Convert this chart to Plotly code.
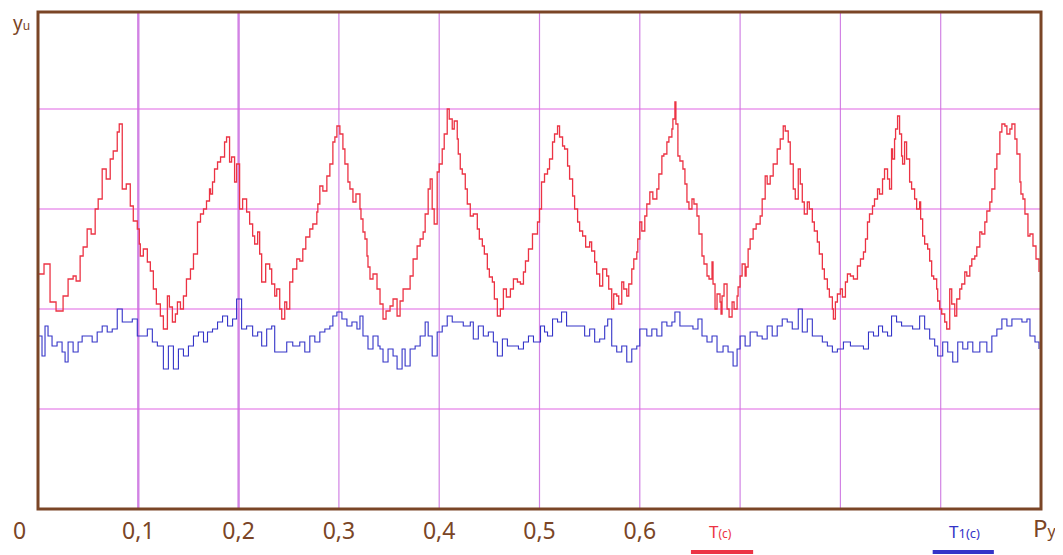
import plotly.graph_objects as go

# ---------------- data ----------------
red_x = [0.000, 0.012, 0.025, 0.035, 0.042, 0.049, 0.057, 0.064, 0.072, 0.079,
         0.084, 0.092, 0.099, 0.102, 0.109, 0.115, 0.122, 0.129, 0.134, 0.139,
         0.145, 0.152, 0.159, 0.165, 0.171, 0.174, 0.179, 0.186, 0.191, 0.196,
         0.201, 0.208, 0.214, 0.219, 0.223, 0.231, 0.236, 0.241, 0.246, 0.251,
         0.258, 0.264, 0.271, 0.278, 0.281, 0.288, 0.294, 0.298, 0.304, 0.309,
         0.314, 0.321, 0.324, 0.328, 0.331, 0.338, 0.344, 0.351, 0.358, 0.364,
         0.371, 0.378, 0.384, 0.389, 0.393, 0.398, 0.403, 0.408, 0.413, 0.418,
         0.421, 0.426, 0.431, 0.438, 0.443, 0.448, 0.453, 0.458, 0.464, 0.471,
         0.478, 0.484, 0.489, 0.498, 0.502, 0.508, 0.513, 0.518, 0.523, 0.528,
         0.533, 0.538, 0.543, 0.550, 0.555, 0.560, 0.567, 0.572, 0.577, 0.582,
         0.587, 0.592, 0.597, 0.600, 0.605, 0.610, 0.617, 0.622, 0.627, 0.632,
         0.635, 0.638, 0.643, 0.647, 0.652, 0.657, 0.662, 0.667, 0.672, 0.675,
         0.680, 0.682, 0.687, 0.692, 0.697, 0.700, 0.705, 0.708, 0.713, 0.720,
         0.725, 0.730, 0.737, 0.743, 0.748, 0.753, 0.758, 0.762, 0.767, 0.772,
         0.777, 0.782, 0.787, 0.792, 0.795, 0.800, 0.805, 0.810, 0.817, 0.823,
         0.827, 0.832, 0.837, 0.842, 0.847, 0.851, 0.854, 0.857, 0.861, 0.864,
         0.869, 0.874, 0.879, 0.882, 0.887, 0.891, 0.896, 0.899, 0.904, 0.909,
         0.914, 0.919, 0.924, 0.929, 0.934, 0.939, 0.944, 0.949, 0.954, 0.959,
         0.964, 0.969, 0.974, 0.979, 0.982, 0.987, 0.992, 0.998]
red_y = [2.35, 2.07, 2.13, 2.33, 2.53, 2.80, 3.00, 3.40, 3.50, 3.77,
         3.20, 3.03, 2.80, 2.53, 2.47, 2.20, 1.93, 2.13, 1.87, 2.07,
         2.13, 2.40, 2.87, 3.00, 3.20, 3.27, 3.47, 3.67, 3.47, 3.27,
         3.00, 2.97, 2.73, 2.77, 2.27, 2.40, 2.13, 2.00, 2.07, 2.27,
         2.50, 2.60, 2.80, 2.97, 3.23, 3.33, 3.67, 3.83, 3.60, 3.27,
         3.07, 3.00, 2.77, 2.53, 2.30, 2.20, 1.90, 2.03, 1.93, 2.20,
         2.33, 2.63, 2.77, 3.20, 3.00, 3.37, 3.60, 4.00, 3.80, 3.70,
         3.40, 3.20, 2.93, 2.80, 2.63, 2.40, 2.27, 1.93, 2.20, 2.20,
         2.27, 2.37, 2.60, 2.87, 3.27, 3.40, 3.67, 3.83, 3.63, 3.43,
         3.13, 2.87, 2.73, 2.67, 2.47, 2.23, 2.33, 2.00, 2.13, 2.27,
         2.13, 2.40, 2.57, 2.87, 2.93, 3.17, 3.20, 3.53, 3.67, 3.80,
         4.07, 3.53, 3.40, 3.07, 3.10, 2.93, 2.53, 2.33, 2.47, 2.00,
         2.07, 2.13, 2.00, 2.07, 2.13, 2.33, 2.33, 2.60, 2.80, 2.93,
         3.33, 3.33, 3.60, 3.83, 3.67, 3.20, 3.40, 3.07, 3.07, 2.87,
         2.67, 2.40, 2.20, 2.00, 2.07, 2.20, 2.27, 2.33, 2.43, 2.57,
         2.87, 3.03, 3.20, 3.30, 3.30, 3.60, 3.70, 3.93, 3.53, 3.67,
         3.27, 3.10, 3.07, 2.73, 2.60, 2.33, 2.20, 2.00, 1.87, 2.20,
         1.93, 2.20, 2.37, 2.43, 2.53, 2.77, 2.87, 3.07, 3.40, 3.77,
         3.83, 3.80, 3.70, 3.27, 3.10, 2.73, 2.63, 2.37]

# in-between jitter samples of the red trace
red_x_mid = [0.006, 0.018, 0.030, 0.038, 0.045, 0.053, 0.060, 0.068, 0.075, 0.081,
             0.088, 0.095, 0.101, 0.105, 0.112, 0.118, 0.125, 0.131, 0.137, 0.142,
             0.148, 0.155, 0.162, 0.168, 0.172, 0.176, 0.182, 0.188, 0.193, 0.198,
             0.204, 0.211, 0.216, 0.221, 0.227, 0.233, 0.238, 0.243, 0.248, 0.254,
             0.261, 0.267, 0.274, 0.279, 0.284, 0.291, 0.296, 0.301, 0.306, 0.311,
             0.317, 0.322, 0.326, 0.329, 0.334, 0.341, 0.347, 0.354, 0.361, 0.367,
             0.374, 0.381, 0.386, 0.391, 0.395, 0.400, 0.405, 0.410, 0.415, 0.419,
             0.423, 0.428, 0.434, 0.440, 0.445, 0.450, 0.455, 0.461, 0.467, 0.474,
             0.481, 0.486, 0.493, 0.500, 0.505, 0.510, 0.515, 0.520, 0.525, 0.530,
             0.535, 0.540, 0.546, 0.552, 0.557, 0.563, 0.569, 0.574, 0.579, 0.584,
             0.589, 0.594, 0.598, 0.602, 0.607, 0.613, 0.619, 0.624, 0.629, 0.633,
             0.636, 0.640, 0.645, 0.649, 0.654, 0.659, 0.664, 0.669, 0.673, 0.677,
             0.681, 0.684, 0.689, 0.694, 0.698, 0.702, 0.706, 0.710, 0.716, 0.722,
             0.727, 0.733, 0.740, 0.745, 0.750, 0.755, 0.760, 0.764, 0.769, 0.774,
             0.779, 0.784, 0.789, 0.793, 0.797, 0.802, 0.807, 0.813, 0.820, 0.825,
             0.829, 0.834, 0.839, 0.844, 0.849, 0.852, 0.855, 0.859, 0.862, 0.866,
             0.871, 0.876, 0.880, 0.884, 0.889, 0.893, 0.897, 0.901, 0.906, 0.911,
             0.916, 0.921, 0.926, 0.931, 0.936, 0.941, 0.946, 0.951, 0.956, 0.961,
             0.966, 0.971, 0.976, 0.980, 0.984, 0.989, 0.995]
red_y_mid = [2.45, 1.98, 2.30, 2.28, 2.62, 2.75, 3.10, 3.30, 3.58, 3.85,
             3.25, 2.88, 2.65, 2.60, 2.38, 2.05, 1.80, 2.02, 1.95, 2.00,
             2.30, 2.55, 2.95, 3.08, 3.15, 3.40, 3.52, 3.72, 3.52, 3.45,
             3.10, 2.85, 2.65, 2.55, 2.45, 2.25, 2.20, 1.90, 2.00, 2.40,
             2.48, 2.72, 2.85, 3.05, 3.18, 3.45, 3.72, 3.75, 3.45, 3.20,
             3.15, 2.90, 2.70, 2.42, 2.35, 2.05, 1.98, 2.10, 2.08, 2.20,
             2.50, 2.70, 2.95, 3.30, 2.85, 3.45, 3.75, 3.90, 3.88, 3.55,
             3.35, 3.05, 2.95, 2.70, 2.55, 2.32, 2.10, 2.00, 2.12, 2.30,
             2.25, 2.48, 2.75, 3.00, 3.35, 3.50, 3.75, 3.72, 3.60, 3.30,
             3.00, 2.78, 2.62, 2.58, 2.35, 2.40, 2.20, 2.15, 2.05, 2.20,
             2.25, 2.50, 2.70, 2.78, 3.05, 3.10, 3.35, 3.55, 3.72, 3.90,
             3.85, 3.48, 3.25, 3.00, 3.05, 2.75, 2.45, 2.30, 2.25, 2.15,
             1.95, 2.25, 1.92, 2.00, 2.22, 2.45, 2.42, 2.70, 2.85, 3.10,
             3.25, 3.45, 3.70, 3.78, 3.45, 3.10, 3.25, 2.95, 3.00, 2.78,
             2.55, 2.30, 2.12, 1.90, 2.15, 2.12, 2.35, 2.30, 2.50, 2.70,
             2.95, 3.10, 3.15, 3.40, 3.20, 3.50, 3.80, 3.75, 3.45, 3.50,
             3.20, 3.00, 2.90, 2.65, 2.48, 2.30, 2.08, 1.95, 1.80, 2.05,
             2.10, 2.25, 2.33, 2.50, 2.62, 2.75, 2.98, 3.20, 3.55, 3.85,
             3.75, 3.85, 3.55, 3.15, 2.95, 2.75, 2.50]

blue_x = [0.000, 0.004, 0.007, 0.010, 0.014, 0.019, 0.024, 0.027, 0.030, 0.035,
          0.040, 0.044, 0.049, 0.054, 0.059, 0.064, 0.069, 0.074, 0.079, 0.084,
          0.089, 0.094, 0.099, 0.104, 0.109, 0.114, 0.119, 0.125, 0.130, 0.135,
          0.140, 0.145, 0.150, 0.155, 0.160, 0.165, 0.169, 0.174, 0.179, 0.184,
          0.189, 0.194, 0.198, 0.203, 0.208, 0.214, 0.219, 0.223, 0.228, 0.233,
          0.236, 0.241, 0.248, 0.254, 0.261, 0.266, 0.271, 0.276, 0.281, 0.286,
          0.291, 0.294, 0.298, 0.303, 0.308, 0.313, 0.318, 0.321, 0.324, 0.329,
          0.334, 0.339, 0.341, 0.344, 0.349, 0.354, 0.358, 0.363, 0.366, 0.371,
          0.376, 0.381, 0.386, 0.389, 0.393, 0.398, 0.403, 0.408, 0.413, 0.418,
          0.424, 0.431, 0.434, 0.439, 0.444, 0.449, 0.454, 0.458, 0.463, 0.468,
          0.474, 0.479, 0.484, 0.489, 0.494, 0.501, 0.505, 0.508, 0.513, 0.518,
          0.522, 0.527, 0.533, 0.540, 0.545, 0.550, 0.555, 0.560, 0.565, 0.568,
          0.572, 0.577, 0.582, 0.587, 0.592, 0.597, 0.600, 0.607, 0.612, 0.617,
          0.622, 0.627, 0.632, 0.635, 0.640, 0.647, 0.653, 0.658, 0.662, 0.667,
          0.672, 0.677, 0.683, 0.688, 0.693, 0.697, 0.700, 0.705, 0.710, 0.717,
          0.722, 0.727, 0.732, 0.737, 0.742, 0.747, 0.752, 0.758, 0.762, 0.767,
          0.772, 0.777, 0.782, 0.787, 0.792, 0.797, 0.803, 0.810, 0.817, 0.823,
          0.828, 0.833, 0.838, 0.842, 0.847, 0.851, 0.856, 0.861, 0.866, 0.872,
          0.879, 0.884, 0.889, 0.894, 0.897, 0.902, 0.907, 0.912, 0.917, 0.922,
          0.927, 0.932, 0.939, 0.946, 0.951, 0.956, 0.961, 0.966, 0.971, 0.976,
          0.981, 0.986, 0.989, 0.994, 0.998]
blue_y = [1.73, 1.53, 1.83, 1.73, 1.63, 1.67, 1.57, 1.47, 1.67, 1.57,
          1.67, 1.73, 1.73, 1.67, 1.77, 1.83, 1.77, 1.80, 2.00, 1.87,
          1.87, 1.90, 1.73, 1.73, 1.80, 1.67, 1.63, 1.40, 1.63, 1.40,
          1.60, 1.53, 1.63, 1.73, 1.77, 1.67, 1.77, 1.80, 1.87, 1.93,
          1.83, 1.90, 2.10, 1.80, 1.83, 1.73, 1.77, 1.63, 1.80, 1.83,
          1.57, 1.57, 1.67, 1.63, 1.67, 1.57, 1.73, 1.67, 1.77, 1.80,
          1.83, 1.93, 1.97, 1.90, 1.83, 1.87, 1.80, 1.93, 1.73, 1.60,
          1.73, 1.63, 1.60, 1.47, 1.60, 1.53, 1.40, 1.60, 1.43, 1.60,
          1.63, 1.73, 1.87, 1.73, 1.53, 1.77, 1.83, 1.93, 1.87, 1.87,
          1.83, 1.87, 1.70, 1.83, 1.73, 1.77, 1.67, 1.53, 1.70, 1.63,
          1.63, 1.60, 1.67, 1.73, 1.67, 1.83, 1.77, 1.73, 1.90, 1.87,
          1.97, 1.83, 1.83, 1.83, 1.73, 1.80, 1.67, 1.70, 1.83, 1.90,
          1.63, 1.57, 1.63, 1.47, 1.60, 1.63, 1.80, 1.73, 1.80, 1.73,
          1.87, 1.83, 1.87, 1.97, 1.83, 1.83, 1.80, 1.90, 1.73, 1.67,
          1.73, 1.57, 1.63, 1.57, 1.43, 1.60, 1.73, 1.63, 1.77, 1.73,
          1.70, 1.83, 1.73, 1.83, 1.90, 1.87, 1.80, 2.00, 1.77, 1.90,
          1.73, 1.73, 1.67, 1.63, 1.57, 1.60, 1.67, 1.63, 1.63, 1.60,
          1.77, 1.73, 1.83, 1.77, 1.73, 1.93, 1.87, 1.83, 1.83, 1.80,
          1.93, 1.80, 1.70, 1.63, 1.53, 1.67, 1.57, 1.47, 1.67, 1.60,
          1.67, 1.57, 1.67, 1.57, 1.73, 1.80, 1.90, 1.83, 1.90, 1.90,
          1.87, 1.90, 1.73, 1.67, 1.60]

tick_vals = [0.1, 0.2, 0.3, 0.4, 0.5, 0.6]
tick_text = ["0,1", "0,2", "0,3", "0,4", "0,5", "0,6"]
grid_x = [0.1, 0.2, 0.3, 0.4, 0.5, 0.6, 0.7, 0.8, 0.9]
grid_y = [1, 2, 3, 4]

# merge the red samples in x order
red_pts = sorted(zip(red_x + red_x_mid, red_y + red_y_mid))
red_all_x = [p[0] for p in red_pts]
red_all_y = [p[1] for p in red_pts]

# ---------------- styling ----------------
BROWN = "#7a4526"
GRID_H = "#e064e4"
GRID_V = "#d283e4"
RED = "#ec3344"
BLUE = "#3434c8"
FONT = "Noto Sans"

fig = go.Figure()
fig.add_trace(go.Scatter(x=red_all_x, y=red_all_y, mode="lines", line_shape="hv",
                         line=dict(color=RED, width=1.3), showlegend=False))
fig.add_trace(go.Scatter(x=blue_x, y=blue_y, mode="lines", line_shape="hv",
                         line=dict(color=BLUE, width=1.1), showlegend=False))

shapes = []
for gx in grid_x:
    w = 2.4 if gx in (0.1, 0.2) else 1.2
    shapes.append(dict(type="line", xref="x", yref="paper", x0=gx, x1=gx, y0=0, y1=1,
                       line=dict(color=GRID_V, width=w), layer="below"))
for gy in grid_y:
    shapes.append(dict(type="line", xref="paper", yref="y", x0=0, x1=1, y0=gy, y1=gy,
                       line=dict(color=GRID_H, width=1.2), layer="below"))
# frame
shapes.append(dict(type="rect", xref="paper", yref="paper", x0=0, x1=1, y0=0, y1=1,
                   line=dict(color=BROWN, width=3)))
# legend bars
shapes.append(dict(type="line", xref="paper", yref="paper", x0=0.651, x1=0.713,
                   y0=-0.0865, y1=-0.0865, line=dict(color=RED, width=4)))
shapes.append(dict(type="line", xref="paper", yref="paper", x0=0.892, x1=0.953,
                   y0=-0.0865, y1=-0.0865, line=dict(color=BLUE, width=4)))

annotations = [
    dict(text="y<span style='font-size:12px'>u</span>", xref="paper", yref="paper",
         x=-0.016, y=1.007, xanchor="center", yanchor="top", showarrow=False,
         borderpad=0,
         font=dict(family=FONT, size=19, color=BROWN)),
    dict(text="0", xref="paper", yref="paper", x=-0.018, y=-0.042,
         xanchor="center", yanchor="middle", showarrow=False,
         font=dict(family=FONT, size=23, color=BROWN)),
    dict(text="P<span style='font-size:16px'>y</span>", xref="paper", yref="paper",
         x=1.004, y=-0.038, xanchor="center", yanchor="middle", showarrow=False,
         font=dict(family=FONT, size=24, color=BROWN)),
    dict(text="T<span style='font-size:12px'>(c)</span>", xref="paper", yref="paper",
         x=0.680, y=-0.046, xanchor="center", yanchor="middle", showarrow=False,
         font=dict(family=FONT, size=17, color=RED)),
    dict(text="T<span style='font-size:13px'>1(c)</span>", xref="paper", yref="paper",
         x=0.924, y=-0.046, xanchor="center", yanchor="middle", showarrow=False,
         font=dict(family=FONT, size=17, color=BLUE)),
]

# the page body adds an 8px offset, so the figure is 8px smaller than the window
fig.update_layout(
    width=1055, height=547,
    margin=dict(l=30, r=22, t=4, b=46),
    paper_bgcolor="white", plot_bgcolor="white",
    shapes=shapes, annotations=annotations,
    xaxis=dict(range=[0, 1.0], showgrid=False, zeroline=False, showline=False,
               tickmode="array", tickvals=tick_vals, ticktext=tick_text,
               ticks="", ticklabelstandoff=6,
               tickfont=dict(family=FONT, size=23, color=BROWN)),
    yaxis=dict(range=[0, 4.97], showgrid=False, zeroline=False, showline=False,
               showticklabels=False, ticks=""),
)

fig.write_html("out.html")
